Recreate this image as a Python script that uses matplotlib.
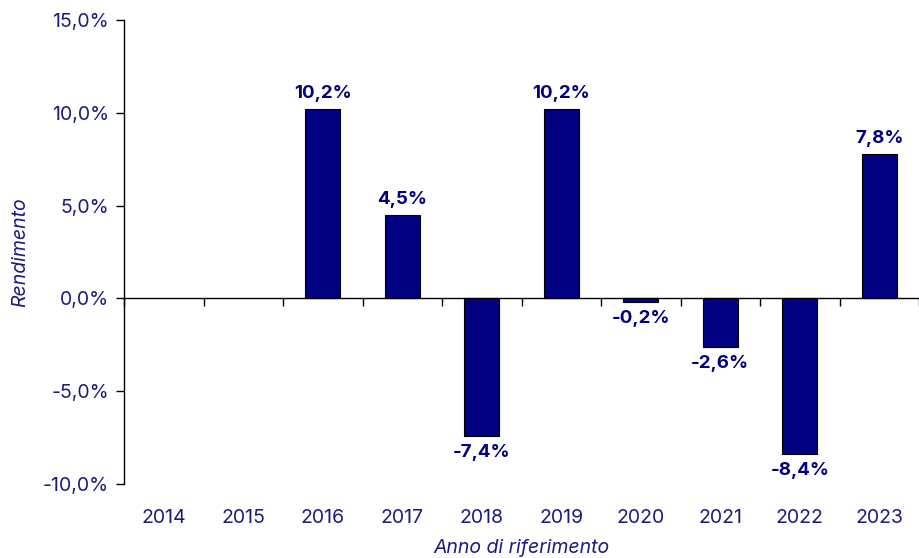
import numpy as np
import matplotlib.pyplot as plt
from matplotlib.ticker import FuncFormatter

years = ['2014', '2015', '2016', '2017', '2018', '2019', '2020', '2021', '2022', '2023']
rendimento = [np.nan, np.nan, 10.2, 4.5, -7.4, 10.2, -0.2, -2.6, -8.4, 7.8]

text_color = '#1c1c80'
bar_color = '#000080'
plt.rcParams['font.family'] = ['Inter', 'DejaVu Sans']

fig = plt.figure(figsize=(9.19, 5.58), dpi=100)
ax = fig.add_axes([0.135, 0.133, 0.865, 0.831])

x = np.arange(len(years))
bars = ax.bar(x, rendimento, width=0.44, color=bar_color, edgecolor='black', linewidth=0.8, zorder=3)

ymin, ymax = -10, 15
ax.set_ylim(ymin, ymax)
ax.set_xlim(-0.5, len(years) - 0.5)
ax.set_yticks(np.arange(-10, 16, 5))
ax.yaxis.set_major_formatter(FuncFormatter(lambda v, p: f'{v:.1f}%'.replace('.', ',')))
ax.tick_params(axis='y', direction='out', length=6, width=1, colors='black', labelcolor=text_color, labelsize=14, pad=5)

# year labels at the bottom, no tick marks
ax.set_xticks(x)
ax.set_xticklabels(years)
ax.tick_params(axis='x', length=0, labelcolor=text_color, labelsize=14, pad=18)

for s in ['top', 'right', 'bottom']:
    ax.spines[s].set_visible(False)
ax.spines['left'].set_linewidth(1)

# zero line with ticks between categories
zero_pos = (0 - ymin) / (ymax - ymin)
sec = ax.secondary_xaxis(zero_pos)
sec.set_xticks(np.arange(-0.5, len(years), 1.0))
sec.tick_params(direction='out', length=6, width=1, labelbottom=False, labeltop=False)
sec.spines['bottom'].set_linewidth(1)

for xi, v in zip(x, rendimento):
    if np.isnan(v):
        continue
    label = f'{v:.1f}%'.replace('.', ',')
    if v >= 0:
        ax.annotate(label, (xi, v), xytext=(0, 5), textcoords='offset points', ha='center', va='bottom',
                    fontsize=13.5, fontweight='bold', color=bar_color)
    else:
        ax.annotate(label, (xi, v), xytext=(0, -6), textcoords='offset points', ha='center', va='top',
                    fontsize=13.5, fontweight='bold', color=bar_color)

ax.set_ylabel('Rendimento', fontsize=14, style='italic', color=text_color, labelpad=10)
ax.set_xlabel('Anno di riferimento', fontsize=14, style='italic', color=text_color, labelpad=9)

fig.savefig('out.png', dpi=100)
